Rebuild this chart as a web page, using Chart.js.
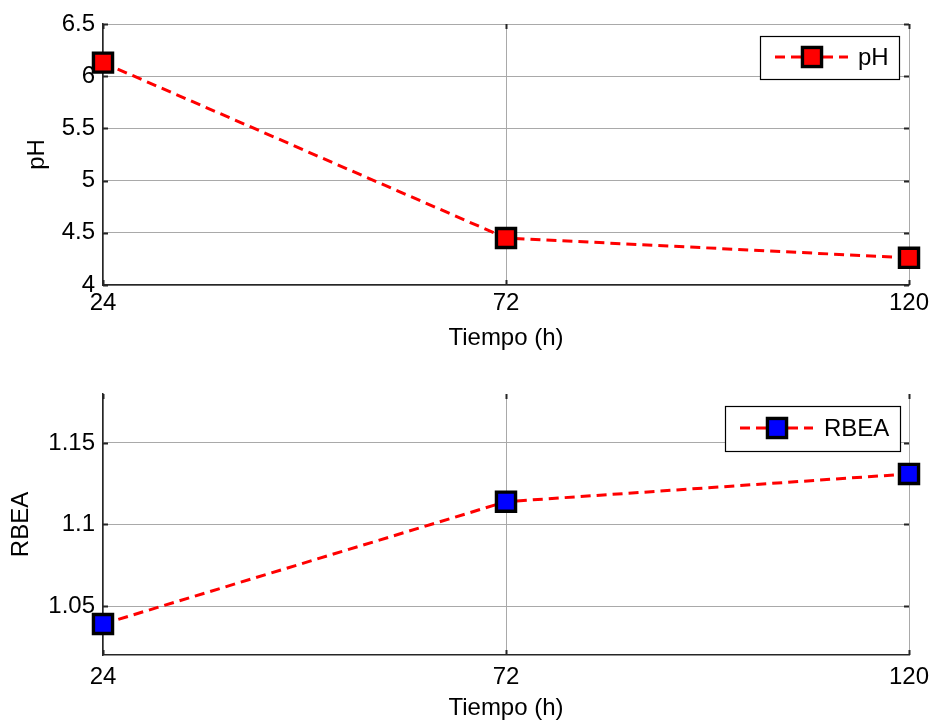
<!DOCTYPE html>
<html>
<head>
<meta charset="utf-8">
<script src="https://cdn.jsdelivr.net/npm/chart.js@4.4.1/dist/chart.umd.min.js"></script>
<style>
  html, body { margin: 0; padding: 0; background: #fff; }
  #wrap { position: relative; width: 933px; height: 724px; overflow: hidden; }
  canvas { position: absolute; left: 0; }
  #cPh { top: 0; }
  #cRbea { top: 362px; }
</style>
</head>
<body>
<div id="wrap">
  <canvas id="cPh" width="933" height="362"></canvas>
  <canvas id="cRbea" width="933" height="362"></canvas>
</div>
<script>
// Sampling times (h)
const tiempo = [24, 72, 120];
// Measured series
const ph = [6.13, 4.45, 4.26];
const rbea = [1.039, 1.114, 1.131];
// Axis ticks
const tiempoTicks = [24, 72, 120];
const phTicks = [4, 4.5, 5, 5.5, 6, 6.5];
const rbeaTicks = [1.05, 1.1, 1.15];

const FONT = "'Liberation Sans', Arial, Helvetica, sans-serif";
const GRID = '#a9a9a9';
const AXIS = '#262626';
const FS = 24;

Chart.defaults.font.family = FONT;
Chart.defaults.color = '#000';

// Inward tick marks on all four sides plus a boxed legend
const frame = {
  id: 'frame',
  afterDatasetsDraw(chart, args, o) {
    const { ctx, chartArea: a, scales } = chart;
    const x = scales.x, y = scales.y;
    ctx.save();
    ctx.strokeStyle = AXIS;
    ctx.lineWidth = 2;
    ctx.beginPath();
    for (const t of y.ticks) {
      const py = Math.round(y.getPixelForValue(t.value)) + 0.5;
      ctx.moveTo(a.left, py); ctx.lineTo(a.left + 5, py);
      ctx.moveTo(a.right, py); ctx.lineTo(a.right - 5, py);
    }
    for (const t of x.ticks) {
      const px = Math.round(x.getPixelForValue(t.value)) + 0.5;
      ctx.moveTo(px, a.bottom); ctx.lineTo(px, a.bottom - 5);
      ctx.moveTo(px, a.top); ctx.lineTo(px, a.top + 5);
    }
    ctx.stroke();

    // legend
    const ds = chart.data.datasets[0];
    const [bx, by, bw, bh] = o.box;
    ctx.fillStyle = '#fff';
    ctx.fillRect(bx, by, bw, bh);
    ctx.strokeStyle = '#000';
    ctx.lineWidth = 1.2;
    ctx.setLineDash([]);
    ctx.strokeRect(bx + 0.5, by + 0.5, bw, bh);
    ctx.strokeStyle = ds.borderColor;
    ctx.lineWidth = ds.borderWidth;
    ctx.setLineDash(ds.borderDash);
    ctx.beginPath();
    ctx.moveTo(o.line[0], o.ly); ctx.lineTo(o.line[1], o.ly);
    ctx.stroke();
    ctx.setLineDash([]);
    ctx.fillStyle = ds.pointBackgroundColor;
    ctx.strokeStyle = ds.pointBorderColor;
    ctx.lineWidth = ds.pointBorderWidth;
    const s = Math.SQRT1_2 * ds.pointRadius;
    ctx.fillRect(o.mx - s, o.ly - s, 2 * s, 2 * s);
    ctx.strokeRect(o.mx - s, o.ly - s, 2 * s, 2 * s);
    ctx.fillStyle = '#000';
    ctx.font = FS + 'px ' + FONT;
    ctx.textBaseline = 'middle';
    ctx.textAlign = 'left';
    ctx.fillText(ds.label, o.tx, o.ly + 1);
    ctx.restore();
  }
};

function makeChart(id, cfg) {
  return new Chart(document.getElementById(id), {
    type: 'line',
    data: {
      datasets: [{
        label: cfg.label,
        data: tiempo.map((t, i) => ({ x: t, y: cfg.values[i] })),
        borderColor: '#ff0000',
        borderWidth: 3,
        borderDash: [10, 6],
        pointStyle: 'rect',
        pointRadius: 13.5,
        pointHoverRadius: 13.5,
        pointBorderWidth: 3.4,
        pointBackgroundColor: cfg.fill,
        pointBorderColor: '#000',
        tension: 0,
        clip: false
      }]
    },
    options: {
      responsive: false,
      animation: false,
      devicePixelRatio: 1,
      events: [],
      layout: { padding: { top: cfg.top, right: 24, left: 0, bottom: 0 } },
      plugins: {
        legend: { display: false },
        tooltip: { enabled: false },
        frame: cfg.legend
      },
      scales: {
        x: {
          type: 'linear',
          min: 24, max: 120,
          afterBuildTicks: s => { s.ticks = tiempoTicks.map(v => ({ value: v })); },
          afterFit: s => { s.height = cfg.xh; s.paddingLeft = 0; s.paddingRight = 0; },
          grid: { color: GRID, lineWidth: 1, drawTicks: false },
          border: { display: true, color: AXIS, width: 1.5 },
          ticks: { padding: cfg.xpad, font: { size: FS }, callback: v => String(v), maxRotation: 0 },
          title: { display: true, text: 'Tiempo (h)', font: { size: FS }, padding: { top: 0, bottom: cfg.xtpad } }
        },
        y: {
          min: cfg.min, max: cfg.max,
          afterBuildTicks: s => { s.ticks = cfg.ticks.map(v => ({ value: v })); },
          afterFit: s => { s.width = 103; s.paddingTop = 0; s.paddingBottom = 0; },
          grid: { color: GRID, lineWidth: 1, drawTicks: false },
          border: { display: true, color: AXIS, width: 1.5 },
          ticks: { padding: 8, font: { size: FS }, callback: v => String(v) },
          title: { display: true, text: cfg.label, font: { size: FS }, padding: { top: cfg.ytpad, bottom: 0 } }
        }
      }
    },
    plugins: [frame]
  });
}

makeChart('cPh', {
  label: 'pH', values: ph, fill: '#ff0000',
  min: 4, max: 6.5, ticks: phTicks,
  top: 24, xh: 77, xpad: 4, xtpad: 9.6, ytpad: 22.6,
  legend: { box: [760, 36, 139, 43], line: [775, 848], ly: 57, mx: 812, tx: 858 }
});

makeChart('cRbea', {
  label: 'RBEA', values: rbea, fill: '#0000ff',
  min: 1.02, max: 1.18, ticks: rbeaTicks,
  top: 32, xh: 69, xpad: 8, xtpad: 1.6, ytpad: 6.6,
  legend: { box: [725, 44, 175, 45], line: [740, 813], ly: 66, mx: 777, tx: 824 }
});
</script>
</body>
</html>
